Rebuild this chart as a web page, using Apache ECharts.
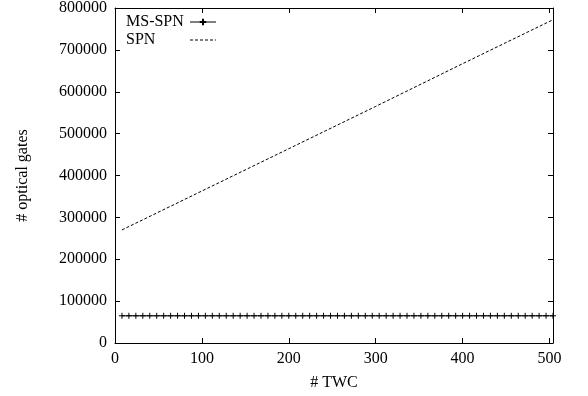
<!DOCTYPE html>
<html>
<head>
<meta charset="utf-8">
<script src="https://cdn.jsdelivr.net/npm/echarts@6/dist/echarts.min.js"></script>
<style>
  html, body { margin: 0; padding: 0; background: #fff; }
  #chart { width: 588px; height: 396px; }
</style>
</head>
<body>
<div id="chart"></div>
<script>
// # TWC values (x)
const twc = [8, 16, 24, 32, 40, 48, 56, 64, 72, 80, 88, 96, 104, 112, 120, 128,
  136, 144, 152, 160, 168, 176, 184, 192, 200, 208, 216, 224, 232, 240, 248, 256,
  264, 272, 280, 288, 296, 304, 312, 320, 328, 336, 344, 352, 360, 368, 376, 384,
  392, 400, 408, 416, 424, 432, 440, 448, 456, 464, 472, 480, 488, 496, 504];

// MS-SPN stays flat
const msSpn = [65000, 65000, 65000, 65000, 65000, 65000, 65000, 65000, 65000, 65000,
  65000, 65000, 65000, 65000, 65000, 65000, 65000, 65000, 65000, 65000, 65000,
  65000, 65000, 65000, 65000, 65000, 65000, 65000, 65000, 65000, 65000, 65000,
  65000, 65000, 65000, 65000, 65000, 65000, 65000, 65000, 65000, 65000, 65000,
  65000, 65000, 65000, 65000, 65000, 65000, 65000, 65000, 65000, 65000, 65000,
  65000, 65000, 65000, 65000, 65000, 65000, 65000, 65000, 65000];

// SPN read at a few x positions along the straight line
const spnX = [8, 100, 200, 300, 400, 504];
const spn = [270000, 363000, 464000, 565000, 667000, 772000];

const font = 'Liberation Serif';
const fs = 16;
const plus = 'path://M0,5 L10,5 M5,0 L5,10';

const tickIn = { show: true, inside: true, length: 5, lineStyle: { color: '#000' } };
const axLine = { show: true, onZero: false, lineStyle: { color: '#000', width: 1 } };

const chart = echarts.init(document.getElementById('chart'));
chart.setOption({
  animation: false,
  textStyle: { fontFamily: font },
  grid: { left: 115, right: 35, top: 5, bottom: 53 },
  legend: {
    orient: 'vertical',
    left: 121,
    top: 9,
    align: 'right',
    itemWidth: 26,
    itemHeight: 8,
    itemGap: 2,
    lineStyle: { width: 1 },
    formatter: name => '{a|' + name + '}',
    textStyle: {
      fontFamily: font, fontSize: fs, color: '#000',
      rich: { a: { fontFamily: font, fontSize: fs, color: '#000', width: 59, align: 'left' } }
    },
    data: ['MS-SPN', { name: 'SPN', itemStyle: { opacity: 0 } }]
  },
  xAxis: [
    {
      type: 'value', min: 0, max: 504, interval: 100,
      name: '# TWC', nameLocation: 'middle', nameGap: 32,
      nameTextStyle: { fontFamily: font, fontSize: fs, color: '#000' },
      axisLine: axLine, axisTick: tickIn, splitLine: { show: false },
      axisLabel: { color: '#000', fontSize: fs, fontFamily: font, margin: 8, showMaxLabel: false }
    },
    {
      type: 'value', min: 0, max: 504, interval: 100, position: 'top',
      axisLine: axLine, axisTick: tickIn, splitLine: { show: false },
      axisLabel: { show: false }
    }
  ],
  yAxis: [
    {
      type: 'value', min: 0, max: 800000, interval: 100000,
      name: '# optical gates', nameLocation: 'middle', nameGap: 84, nameRotate: 90,
      nameTextStyle: { fontFamily: font, fontSize: fs, color: '#000' },
      axisLine: axLine, axisTick: tickIn, splitLine: { show: false },
      axisLabel: { color: '#000', fontSize: fs, fontFamily: font, margin: 8, formatter: v => String(v) }
    },
    {
      type: 'value', min: 0, max: 800000, interval: 100000, position: 'right',
      axisLine: axLine, axisTick: tickIn, splitLine: { show: false },
      axisLabel: { show: false }
    }
  ],
  series: [
    {
      name: 'MS-SPN',
      type: 'line',
      data: twc.map((x, i) => [x, msSpn[i]]),
      symbol: plus,
      symbolSize: 6,
      showAllSymbol: true,
      lineStyle: { color: '#000', width: 1 },
      itemStyle: { color: 'rgba(0,0,0,0)', borderColor: '#000', borderWidth: 1 }
    },
    {
      name: 'SPN',
      type: 'line',
      data: spnX.map((x, i) => [x, spn[i]]),
      showSymbol: false,
      symbol: 'none',
      lineStyle: { color: '#000', width: 1, type: [3, 2] },
      itemStyle: { color: 'rgba(0,0,0,0)', borderWidth: 0 }
    }
  ]
});
</script>
</body>
</html>
